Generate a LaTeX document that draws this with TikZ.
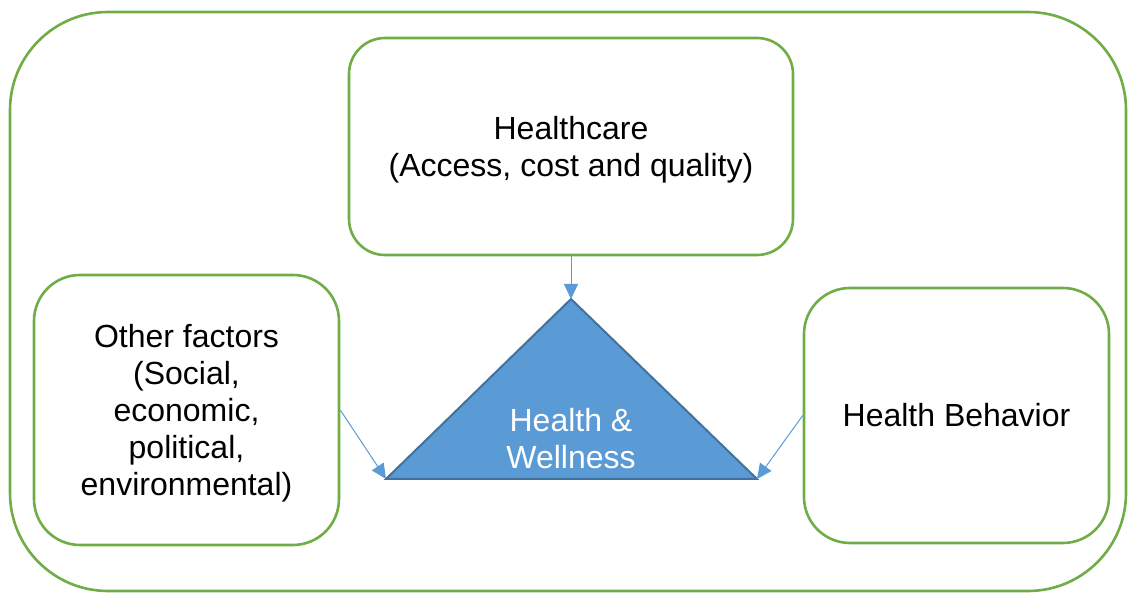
\documentclass[tikz,border=0pt]{standalone}
\usepackage{fontspec}
\setmainfont{Liberation Sans}
\usetikzlibrary{arrows.meta}
\definecolor{grn}{HTML}{70AD47}
\definecolor{blu}{HTML}{5B9BD5}
\definecolor{dblu}{HTML}{41719C}
\begin{document}
\begin{tikzpicture}[x=1pt,y=-1pt,
  box/.style={draw=grn,line width=2.6pt,fill=white,align=center,inner sep=0pt,font=\fontsize{32}{37}\selectfont},
  conn/.style={draw=blu,line width=1pt,-{Triangle[length=15pt,width=14pt]}}]
\useasboundingbox (0,0) rectangle (1128,593);
\draw[draw=grn,line width=2.6pt,rounded corners=98pt] (10,12) rectangle (1126,591);
\node[box,rounded corners=36pt,minimum width=444pt,minimum height=217pt] (hc) at (571,146.5) {};
\node[font=\fontsize{32}{37}\selectfont,align=center] (hct) at (571,149.5) {Healthcare\\(Access, cost and quality)};
\node[box,rounded corners=46pt,minimum width=305pt,minimum height=270pt] (of) at (186.5,410) {};
\node[font=\fontsize{32}{37}\selectfont,align=center] (oft) at (186.5,413) {Other factors\\(Social,\\economic,\\political,\\environmental)};
\node[box,rounded corners=46pt,minimum width=305pt,minimum height=255pt] (hb) at (956.5,415.5) {Health Behavior};
\coordinate (apex) at (571,299);
\coordinate (bl) at (386,479);
\coordinate (br) at (757,479);
\draw[fill=blu,draw=dblu,line width=2pt,line join=miter] (apex) -- (br) -- (bl) -- cycle;
\node[font=\fontsize{32}{37}\selectfont,text=white,align=center] (hw) at (571,439) {Health \&\\Wellness};
\draw[conn] (hc.south) -- (apex);
\draw[conn] (of.east) -- (bl);
\draw[conn] (hb.west) -- (br);
\end{tikzpicture}
\end{document}
